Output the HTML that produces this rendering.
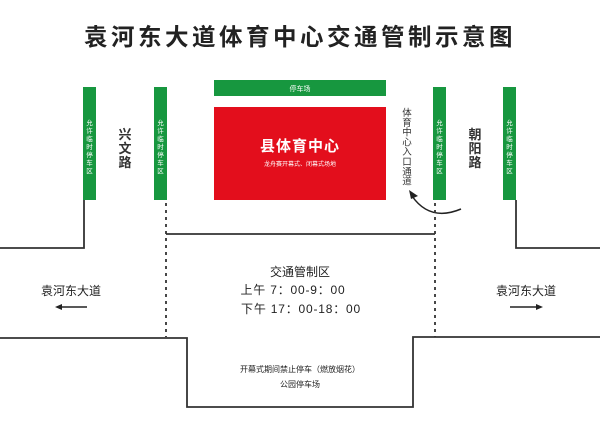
<!DOCTYPE html>
<html><head><meta charset="utf-8"><style>
body{margin:0;width:600px;height:424px;background:#fff;overflow:hidden;font-family:"Liberation Sans","Noto Sans CJK SC",sans-serif;}
</style></head><body>
<svg width="600" height="424" viewBox="0 0 600 424" xmlns="http://www.w3.org/2000/svg" style="font-family:'Liberation Sans','Noto Sans CJK SC',sans-serif">
<text x="300" y="45" text-anchor="middle" font-size="23.5" font-weight="bold" fill="#222" letter-spacing="3.5">袁河东大道体育中心交通管制示意图</text>
<g fill="#17973f">
<rect x="83" y="87" width="13" height="113"/><rect x="154" y="87" width="13" height="113"/>
<rect x="433" y="87" width="13" height="113"/><rect x="503" y="87" width="13" height="113"/>
<rect x="214" y="80" width="172" height="16"/>
</g>
<rect x="214" y="107" width="172" height="93" fill="#e30e1c"/>
<g fill="#fff" font-size="7" text-anchor="middle">
<text x="300" y="91">停车场</text>
<text x="300" y="166" font-size="6">龙舟赛开幕式、闭幕式场地</text>
</g>
<text x="300" y="151" text-anchor="middle" font-size="15" font-weight="bold" fill="#fff" letter-spacing="1">县体育中心</text>
<g fill="#fff" font-size="6.5" text-anchor="middle">
<text x="89.5" y="125"><tspan x="89.5" dy="0">允</tspan><tspan x="89.5" dy="8">许</tspan><tspan x="89.5" dy="8">临</tspan><tspan x="89.5" dy="8">时</tspan><tspan x="89.5" dy="8">停</tspan><tspan x="89.5" dy="8">车</tspan><tspan x="89.5" dy="8">区</tspan></text>
<text x="160.5" y="125"><tspan x="160.5" dy="0">允</tspan><tspan x="160.5" dy="8">许</tspan><tspan x="160.5" dy="8">临</tspan><tspan x="160.5" dy="8">时</tspan><tspan x="160.5" dy="8">停</tspan><tspan x="160.5" dy="8">车</tspan><tspan x="160.5" dy="8">区</tspan></text>
<text x="439.5" y="125"><tspan x="439.5" dy="0">允</tspan><tspan x="439.5" dy="8">许</tspan><tspan x="439.5" dy="8">临</tspan><tspan x="439.5" dy="8">时</tspan><tspan x="439.5" dy="8">停</tspan><tspan x="439.5" dy="8">车</tspan><tspan x="439.5" dy="8">区</tspan></text>
<text x="509.5" y="125"><tspan x="509.5" dy="0">允</tspan><tspan x="509.5" dy="8">许</tspan><tspan x="509.5" dy="8">临</tspan><tspan x="509.5" dy="8">时</tspan><tspan x="509.5" dy="8">停</tspan><tspan x="509.5" dy="8">车</tspan><tspan x="509.5" dy="8">区</tspan></text>
</g>
<g fill="#333" font-size="13" font-weight="bold" text-anchor="middle">
<text x="125" y="139"><tspan x="125" dy="0">兴</tspan><tspan x="125" dy="14">文</tspan><tspan x="125" dy="14">路</tspan></text>
<text x="475" y="139"><tspan x="475" dy="0">朝</tspan><tspan x="475" dy="14">阳</tspan><tspan x="475" dy="14">路</tspan></text>
</g>
<text x="407" y="116" fill="#333" font-size="9.5" text-anchor="middle"><tspan x="407" dy="0">体</tspan><tspan x="407" dy="9.8">育</tspan><tspan x="407" dy="9.8">中</tspan><tspan x="407" dy="9.8">心</tspan><tspan x="407" dy="9.8">入</tspan><tspan x="407" dy="9.8">口</tspan><tspan x="407" dy="9.8">通</tspan><tspan x="407" dy="9.8">道</tspan></text>
<path d="M461 209 Q430 222 412 196" fill="none" stroke="#222" stroke-width="1.5"/>
<path d="M409 190 L418 196 L411 199 Z" fill="#222"/>
<g fill="none" stroke="#333" stroke-width="1.8">
<polyline points="84,200 84,248 0,248"/>
<polyline points="516,200 516,248 600,248"/>
<polyline points="166,234 435,234"/>
<polyline points="0,338 187,338 187,407 413,407 413,337 600,337"/>
</g>
<g stroke="#333" stroke-width="1.8" stroke-dasharray="3,4">
<line x1="166" y1="203" x2="166" y2="337"/>
<line x1="435" y1="203" x2="435" y2="337"/>
</g>
<g fill="#222" font-size="12" text-anchor="middle">
<text x="300" y="276">交通管制区</text>
<text x="293" y="294" letter-spacing="0.8">上午 7：00-9：00</text>
<text x="301" y="313" letter-spacing="0.8">下午 17：00-18：00</text>
<text x="71" y="295">袁河东大道</text>
<text x="526" y="295">袁河东大道</text>
</g>
<g fill="#222" font-size="8" text-anchor="middle">
<text x="300" y="372">开幕式期间禁止停车（燃放烟花）</text>
<text x="300" y="387">公园停车场</text>
</g>
<g stroke="#222" stroke-width="1.5"><line x1="60" y1="307" x2="87" y2="307"/><line x1="510" y1="307" x2="538" y2="307"/></g>
<path d="M55 307 L62 304 L62 310 Z M543 307 L536 304 L536 310 Z" fill="#222"/>
</svg>
</body></html>
